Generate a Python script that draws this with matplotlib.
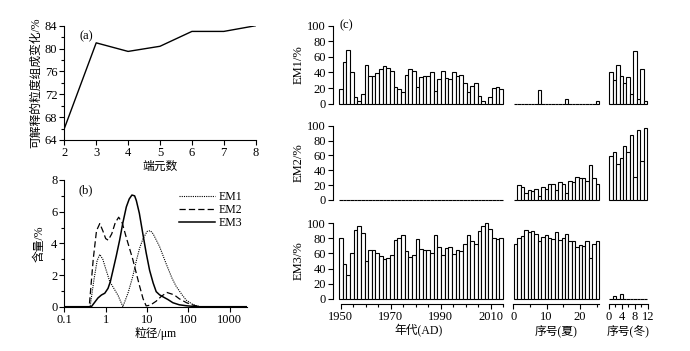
import numpy as np
import matplotlib
matplotlib.use("Agg")
import matplotlib.pyplot as plt
from matplotlib.ticker import MultipleLocator, FixedLocator

plt.rcParams['font.family'] = ['Liberation Serif', 'Noto Sans CJK SC']
plt.rcParams['font.size'] = 9
plt.rcParams['axes.linewidth'] = 0.8
plt.rcParams['xtick.direction'] = 'out'
plt.rcParams['ytick.direction'] = 'out'

# (a) explained variance vs number of end members
n_em = [2, 3, 4, 5, 6, 7, 8]
explained = [66.0, 81.0, 79.5, 80.4, 83.0, 83.0, 84.0]

# (b) end-member grain size distributions
em1_size = [0.1, 0.42, 0.52, 0.62, 0.72, 0.85, 1.0, 1.25, 1.5, 2.0, 2.6, 3.5, 4.5, 5.5,
            6.6, 8.0, 10, 12, 14, 20, 29, 40, 50, 70, 88, 120, 153, 200, 2500]
em1_val = [0, 0, 1.7, 2.9, 3.3, 3.0, 2.4, 1.6, 1.25, 0.7, 0, 0.9, 1.9, 2.9,
           3.7, 4.3, 4.75, 4.8, 4.6, 3.8, 2.7, 1.8, 1.3, 0.75, 0.42, 0.18, 0.06, 0, 0]
em2_size = [0.1, 0.40, 0.5, 0.6, 0.72, 0.85, 1.0, 1.15, 1.4, 1.7, 2.06, 2.5, 3.2, 4.5,
            5.5, 6.6, 8, 9.5, 12, 16.6, 22, 30, 45, 60, 90, 130, 180, 2500]
em2_val = [0, 0, 3.0, 4.8, 5.25, 4.8, 4.3, 4.2, 4.6, 5.3, 5.65, 5.3, 4.3, 3.0,
           2.1, 1.3, 0.5, 0.05, 0.1, 0.35, 0.65, 0.9, 0.75, 0.5, 0.25, 0.1, 0, 0]
em3_size = [0.1, 0.45, 0.55, 0.65, 0.79, 0.95, 1.14, 1.3, 1.5, 1.8, 2.17, 2.6, 3.15, 3.7,
            4.3, 5.0, 5.5, 6.5, 7.9, 9.5, 11.5, 14, 16.6, 20, 24, 32, 42, 60, 88, 130, 184, 2500]
em3_val = [0, 0, 0.3, 0.55, 0.74, 0.85, 1.16, 1.6, 2.3, 3.2, 4.2, 5.3, 6.3, 6.8,
           7.05, 7.0, 6.7, 5.9, 4.6, 3.4, 2.3, 1.5, 0.95, 0.75, 0.63, 0.45, 0.25, 0.12, 0.06, 0.02, 0, 0]

# (c) end-member contents: core samples (1950-2015), summer and winter samples
core_em1 = [19, 54, 69, 40, 9, 4, 13, 50, 35, 36, 39, 44, 48, 46, 42, 22, 19, 15, 37, 45, 42, 21, 34,
            35, 36, 40, 16, 32, 42, 33, 32, 41, 36, 37, 27, 15, 23, 27, 10, 4, 0, 8, 20, 21, 19]
core_em2 = [0] * 45
core_em3 = [81, 46, 31, 60, 91, 96, 87, 50, 65, 64, 61, 56, 52, 54, 58, 78, 81, 85, 63, 55, 58, 79, 66,
            65, 64, 60, 84, 68, 58, 67, 68, 59, 64, 63, 73, 85, 77, 73, 90, 96, 100, 92, 80, 79, 81]
sum_em1 = [0, 0, 0, 0, 0, 0, 0, 17, 0, 0, 0, 0, 0, 0, 0, 6, 0, 0, 0, 0, 0, 0, 0, 0, 4]
sum_em2 = [0, 20, 18, 10, 13, 12, 15, 6, 18, 15, 21, 22, 13, 24, 21, 9, 25, 24, 31, 29, 30, 25, 47, 29, 21]
sum_em3 = [72, 81, 83, 91, 89, 90, 86, 77, 82, 85, 80, 79, 88, 78, 80, 86, 77, 77, 69, 71, 70, 76, 54, 72, 77]
win_em1 = [40, 31, 50, 36, 26, 34, 12, 67, 6, 45, 3]
win_em2 = [59, 65, 48, 57, 73, 65, 87, 31, 94, 53, 97]
win_em3 = [0, 3, 0, 6, 0, 0, 0, 0, 0, 0, 0]

W, H = 690, 351
fig = plt.figure(figsize=(W / 100, H / 100), dpi=100)


def px_axes(x0, x1, ytop, ybot):
    return fig.add_axes([x0 / W, (H - ybot) / H, (x1 - x0) / W, (ybot - ytop) / H])


def style_ticks(ax):
    ax.tick_params(which='major', length=3.5, width=0.8, labelsize=9, pad=1.5)
    ax.tick_params(which='minor', length=2, width=0.8)


# ---- (a)
ax = px_axes(64.3, 255.7, 25.7, 140)
ax.plot(n_em, explained, color='black', lw=1.0)
ax.set_xlim(2, 8)
ax.set_ylim(64, 84)
ax.set_yticks([64, 68, 72, 76, 80, 84])
ax.yaxis.set_minor_locator(MultipleLocator(2))
ax.set_xticks(n_em)
for s in ['top', 'right']:
    ax.spines[s].set_visible(False)
style_ticks(ax)
ax.set_ylabel('可解释的粒度组成变化/%', fontsize=8.5, labelpad=2)
ax.set_xlabel('端元数', fontsize=8.5, labelpad=1)
ax.text(0.08, 0.96, '(a)', transform=ax.transAxes, fontsize=9, va='top')

# ---- (b)
ax = px_axes(64.3, 246.7, 180, 306.7)
ax.semilogx(em1_size, em1_val, color='black', lw=0.8, ls=(0, (1, 1)), label='EM1')
ax.semilogx(em2_size, em2_val, color='black', lw=0.9, ls=(0, (5, 2.5)), label='EM2')
ax.semilogx(em3_size, em3_val, color='black', lw=1.1, ls='-', label='EM3')
ax.set_xlim(0.1, 2550)
ax.set_ylim(0, 8)
ax.set_xticks([0.1, 1, 10, 100, 1000])
ax.set_xticklabels(['0.1', '1', '10', '100', '1000'])
ax.xaxis.set_minor_locator(FixedLocator([]))
ax.set_yticks([0, 2, 4, 6, 8])
ax.yaxis.set_minor_locator(MultipleLocator(1))
for s in ['top', 'right']:
    ax.spines[s].set_visible(False)
style_ticks(ax)
ax.set_ylabel('含量/%', fontsize=8.5, labelpad=4)
ax.set_xlabel('粒径/μm', fontsize=8.5, labelpad=1)
ax.text(0.08, 0.97, '(b)', transform=ax.transAxes, fontsize=9, va='top')
ax.legend(loc='upper right', bbox_to_anchor=(1.0, 0.95), frameon=False, fontsize=8.5,
          handlelength=3.0, labelspacing=0.1, handletextpad=0.3, borderaxespad=0)

# ---- (c)
rows = [(25.7, 103.7, 'EM1/%', core_em1, sum_em1, win_em1),
        (125.7, 200.0, 'EM2/%', core_em2, sum_em2, win_em2),
        (223.3, 298.7, 'EM3/%', core_em3, sum_em3, win_em3)]

core_w = 1.458
core_x = 1949.4 + np.arange(len(core_em1)) * core_w
sum_w = 1.02
sum_x = 0.2 + np.arange(len(sum_em1)) * sum_w
win_w = 1.06
win_x = 0.1 + np.arange(len(win_em1)) * win_w

bar_kw = dict(align='edge', color='white', edgecolor='black', linewidth=0.8, clip_on=False)

for r, (yt, yb, lab, core, summ, wint) in enumerate(rows):
    last = r == len(rows) - 1

    a1 = px_axes(333, 505, yt, yb)
    a1.bar(core_x, core, width=core_w, **bar_kw)
    a1.set_xlim(1947, 2015.8)
    a1.set_ylim(0, 100)
    a1.set_yticks([0, 20, 40, 60, 80, 100])
    a1.set_ylabel(lab, fontsize=9, labelpad=2)
    for s in ['top', 'right']:
        a1.spines[s].set_visible(False)
    if r == 0:
        a1.text(0.04, 1.0, '(c)', transform=a1.transAxes, fontsize=9, va='center')

    a2 = px_axes(512, 600, yt, yb)
    a2.bar(sum_x, summ, width=sum_w, **bar_kw)
    a2.set_xlim(-0.4, 26.0)
    a2.set_ylim(0, 100)

    a3 = px_axes(608, 649, yt, yb)
    a3.bar(win_x, wint, width=win_w, **bar_kw)
    a3.set_xlim(-0.3, 12.4)
    a3.set_ylim(0, 100)

    for a in (a2, a3):
        a.set_yticks([])
        for s in ['top', 'right', 'left']:
            a.spines[s].set_visible(False)

    for a in (a1, a2, a3):
        a.patch.set_alpha(0)
        style_ticks(a)
        if last:
            a.spines['bottom'].set_position(('outward', 4))
        else:
            a.spines['bottom'].set_visible(False)
            a.set_xticks([])

    if last:
        a1.spines['bottom'].set_bounds(1950, 2015)
        a1.set_xticks([1950, 1970, 1990, 2010])
        a1.xaxis.set_minor_locator(FixedLocator(np.arange(1955, 2016, 5)))
        a1.set_xlabel('年代(AD)', fontsize=8.5, labelpad=1)

        a2.spines['bottom'].set_bounds(0, 25.7)
        a2.set_xticks([0, 10, 20])
        a2.xaxis.set_minor_locator(FixedLocator([5, 15, 25]))
        a2.set_xlabel('序号(夏)', fontsize=8.5, labelpad=1)

        a3.spines['bottom'].set_bounds(0, 12)
        a3.set_xticks([0, 4, 8, 12])
        a3.xaxis.set_minor_locator(FixedLocator([2, 6, 10]))
        a3.set_xlabel('序号(冬)', fontsize=8.5, labelpad=1)

fig.savefig('out.png', dpi=100, facecolor='white')
